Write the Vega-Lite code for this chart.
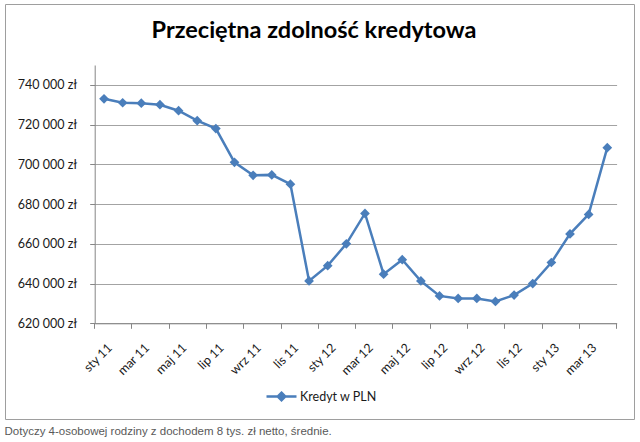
{
  "$schema": "https://vega.github.io/schema/vega-lite/v6.json",
  "autosize": "none",
  "width": 629,
  "height": 415,
  "padding": {"left": 5, "top": 4, "right": 6, "bottom": 23},
  "background": "white",
  "title": {
    "text": "Przeciętna zdolność kredytowa",
    "font": "Lato", "fontSize": 23.5, "fontWeight": "bold", "color": "#000000",
    "anchor": "middle", "frame": "group", "dx": -5.5, "dy": 22, "offset": -35.3, "baseline": "alphabetic"
  },
  "config": {"view": {"stroke": "#9e9e9e", "strokeWidth": 1}},
  "data": {
    "values": [
      {"miesiac": "sty 11", "kredyt": 733000, "seria": "Kredyt w PLN"},
      {"miesiac": "lut 11", "kredyt": 731000, "seria": "Kredyt w PLN"},
      {"miesiac": "mar 11", "kredyt": 730800, "seria": "Kredyt w PLN"},
      {"miesiac": "kwi 11", "kredyt": 730000, "seria": "Kredyt w PLN"},
      {"miesiac": "maj 11", "kredyt": 727000, "seria": "Kredyt w PLN"},
      {"miesiac": "cze 11", "kredyt": 722000, "seria": "Kredyt w PLN"},
      {"miesiac": "lip 11", "kredyt": 718000, "seria": "Kredyt w PLN"},
      {"miesiac": "sie 11", "kredyt": 701000, "seria": "Kredyt w PLN"},
      {"miesiac": "wrz 11", "kredyt": 694500, "seria": "Kredyt w PLN"},
      {"miesiac": "paź 11", "kredyt": 694700, "seria": "Kredyt w PLN"},
      {"miesiac": "lis 11", "kredyt": 690000, "seria": "Kredyt w PLN"},
      {"miesiac": "gru 11", "kredyt": 641300, "seria": "Kredyt w PLN"},
      {"miesiac": "sty 12", "kredyt": 649000, "seria": "Kredyt w PLN"},
      {"miesiac": "lut 12", "kredyt": 660000, "seria": "Kredyt w PLN"},
      {"miesiac": "mar 12", "kredyt": 675300, "seria": "Kredyt w PLN"},
      {"miesiac": "kwi 12", "kredyt": 644700, "seria": "Kredyt w PLN"},
      {"miesiac": "maj 12", "kredyt": 652000, "seria": "Kredyt w PLN"},
      {"miesiac": "cze 12", "kredyt": 641300, "seria": "Kredyt w PLN"},
      {"miesiac": "lip 12", "kredyt": 633800, "seria": "Kredyt w PLN"},
      {"miesiac": "sie 12", "kredyt": 632500, "seria": "Kredyt w PLN"},
      {"miesiac": "wrz 12", "kredyt": 632500, "seria": "Kredyt w PLN"},
      {"miesiac": "paź 12", "kredyt": 631000, "seria": "Kredyt w PLN"},
      {"miesiac": "lis 12", "kredyt": 634200, "seria": "Kredyt w PLN"},
      {"miesiac": "gru 12", "kredyt": 640000, "seria": "Kredyt w PLN"},
      {"miesiac": "sty 13", "kredyt": 650600, "seria": "Kredyt w PLN"},
      {"miesiac": "lut 13", "kredyt": 665000, "seria": "Kredyt w PLN"},
      {"miesiac": "mar 13", "kredyt": 674800, "seria": "Kredyt w PLN"},
      {"miesiac": "kwi 13", "kredyt": 708400, "seria": "Kredyt w PLN"}
    ]
  },
  "encoding": {
    "y": {
      "field": "kredyt", "type": "quantitative",
      "scale": {"domain": [620000, 750000], "range": [319.3, 61], "nice": false, "zero": false},
      "axis": {
        "orient": "left", "offset": -89.7,
        "values": [620000, 640000, 660000, 680000, 700000, 720000, 740000],
        "grid": true, "gridColor": "#a3a3a3", "gridWidth": 1,
        "domainColor": "#868686", "domainWidth": 1,
        "tickColor": "#868686", "tickSize": 5,
        "labelFont": "Lato", "labelFontSize": 12.5, "labelColor": "#1a1a1a", "labelPadding": 13,
        "labelExpr": "replace(format(datum.value, ',d'), ',', ' ') + ' zł'",
        "title": null
      }
    },
    "color": {
      "field": "seria", "type": "nominal",
      "scale": {"range": ["#4a7ebb"]},
      "legend": {
        "orient": "none", "legendX": 260, "legendY": 376, "title": null,
        "symbolType": "M-1,0L1,0M0,-0.25L0.25,0L0,0.25L-0.25,0Z",
        "symbolSize": 900, "symbolStrokeWidth": 2.5,
        "symbolFillColor": "#4a7ebb", "symbolStrokeColor": "#4a7ebb",
        "labelFont": "Lato", "labelFontSize": 12.5, "labelColor": "#1a1a1a",
        "labelOffset": 2, "padding": 0
      }
    }
  },
  "layer": [
    {
      "mark": {"type": "line", "strokeWidth": 2.5},
      "encoding": {
        "x": {
          "field": "miesiac", "type": "ordinal", "sort": null, "bandPosition": 0.5,
          "scale": {"type": "band", "range": [89.7, 611.6], "paddingInner": 0, "paddingOuter": 0},
          "axis": {
            "orient": "bottom", "offset": -95.7,
            "values": ["sty 11", "mar 11", "maj 11", "lip 11", "wrz 11", "lis 11", "sty 12", "mar 12", "maj 12", "lip 12", "wrz 12", "lis 12", "sty 13", "mar 13"],
            "bandPosition": 0, "labelOffset": 6, "labelAngle": -45,
            "labelAlign": "right", "labelBaseline": "middle", "labelPadding": 17,
            "tickSize": 5, "tickColor": "#868686", "domainColor": "#868686", "grid": false,
            "labelFont": "Lato", "labelFontSize": 12.5, "labelColor": "#1a1a1a",
            "labelOverlap": false, "title": null
          }
        }
      }
    },
    {
      "mark": {"type": "point", "shape": "diamond", "filled": true, "size": 95, "opacity": 1},
      "encoding": {
        "x": {
          "field": "miesiac", "type": "ordinal", "sort": null, "bandPosition": 0.5,
          "scale": {"type": "band", "range": [89.7, 611.6], "paddingInner": 0, "paddingOuter": 0},
          "axis": {
            "orient": "bottom", "offset": -95.7,
            "values": ["kwi 13"], "bandPosition": 1,
            "labels": false, "domain": false, "grid": false,
            "tickSize": 5, "tickColor": "#868686",
            "title": "Dotyczy 4-osobowej rodziny z dochodem 8 tys. zł netto, średnie.",
            "titleX": -1, "titleY": 111, "titleAngle": 0, "titleAlign": "left",
            "titleBaseline": "alphabetic", "titleFont": "Liberation Sans", "titleFontSize": 11.5,
            "titleFontWeight": "normal", "titleColor": "#595959"
          }
        }
      }
    }
  ],
  "resolve": {"axis": {"x": "independent"}}
}
